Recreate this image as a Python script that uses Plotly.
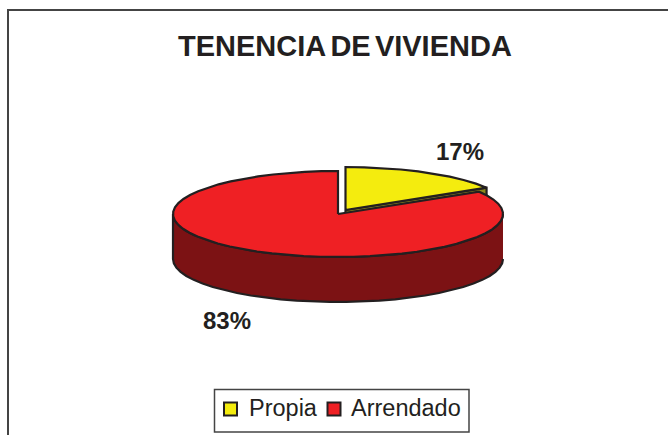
import numpy as np
import plotly.graph_objects as go

categories = ["Propia", "Arrendado"]
values = [17, 83]
labels = ["17%", "83%"]
title_words = ["TENENCIA", "DE", "VIVIENDA"]
top_colors = ["#f4ec0e", "#ef2024"]
wall_colors = ["#8c8a1c", "#7c1214"]
INK = "#231f20"

W, H = 668, 435
RX, RY, DEPTH = 165, 43, 45
CX, CY = 338, 214          # centre of the pie
EXPLODE = (7.5, -4)        # the first slice is pulled out
PERSPECTIVE = 0.96         # tilted view foreshortens the slice angle slightly
STEPS = 64


def rim(cx, cy, a0, a1):
    """Rim points from a0 to a1 (radians, clockwise from 12 o'clock)."""
    n = max(2, int(abs(a1 - a0) / (2 * np.pi) * STEPS))
    t = np.linspace(a0, a1, n)
    return cx + RX * np.sin(t), cy - RY * np.cos(t)


def poly(xs, ys, fill):
    return go.Scatter(x=list(xs), y=list(ys), mode="lines", fill="toself", fillcolor=fill,
                      line=dict(color=INK, width=2.2, shape="linear"), hoverinfo="skip",
                      showlegend=False)


share = values[0] / sum(values)
split = 2 * np.pi * share * PERSPECTIVE

fig = go.Figure()

# first slice: cut wall, then top
x0, y0 = CX + EXPLODE[0], CY + EXPLODE[1]
ex = x0 + RX * np.sin(split)
ey = y0 - RY * np.cos(split)
fig.add_trace(poly([x0, ex, ex, x0, x0], [y0, ey, ey + DEPTH, y0 + DEPTH, y0], wall_colors[0]))
sx, sy = rim(x0, y0, 0, split)
fig.add_trace(poly([x0, *sx, x0], [y0, *sy, y0], top_colors[0]))

# second slice: outer wall, then top
wx, wy = rim(CX, CY, np.pi / 2, 3 * np.pi / 2)
fig.add_trace(poly([*wx, *wx[::-1]], [*wy, *(wy[::-1] + DEPTH)], wall_colors[1]))
rx, ry = rim(CX, CY, split, 2 * np.pi)
fig.add_trace(poly([CX, *rx, CX], [CY, *ry, CY], top_colors[1]))

# legend keys
legend_key_x = [230.5, 334]
legend_text_x = [246.5, 348.5]
LEGEND_Y = 408
for name, colour, kx in zip(categories, top_colors, legend_key_x):
    fig.add_trace(go.Scatter(x=[kx], y=[LEGEND_Y + 1], mode="markers", name=name, showlegend=False,
                             hoverinfo="name",
                             marker=dict(symbol="square", size=13, color=colour,
                                         line=dict(color=INK, width=2))))

narrow_space = "<span style='font-size:15px'> </span>"
annotations = [
    dict(text="<b>" + narrow_space.join(title_words) + "</b>", x=344.5, y=45.5, xref="x", yref="y",
         showarrow=False, font=dict(size=29, color=INK)),
    dict(text=f"<b>{labels[0]}</b>", x=460, y=151, xref="x", yref="y",
         showarrow=False, font=dict(size=24, color=INK)),
    dict(text=f"<b>{labels[1]}</b>", x=227, y=320, xref="x", yref="y",
         showarrow=False, font=dict(size=24, color=INK)),
]
for name, tx in zip(categories, legend_text_x):
    annotations.append(dict(text=name, x=tx, y=LEGEND_Y, xref="x", yref="y", xanchor="left",
                            showarrow=False, font=dict(size=23.5, color=INK)))

fig.update_layout(
    width=W, height=H, autosize=False,
    margin=dict(l=0, r=0, t=0, b=0),
    paper_bgcolor="white", plot_bgcolor="white",
    font=dict(family="Liberation Sans, Arial, sans-serif", color=INK),
    xaxis=dict(range=[0, W], visible=False, fixedrange=True),
    yaxis=dict(range=[H, 0], visible=False, fixedrange=True),
    showlegend=False,
    shapes=[
        dict(type="path", path="M 8 435 L 8 10 L 668 10", xref="x", yref="y",
             line=dict(color="#444444", width=2)),
        dict(type="rect", x0=214.5, x1=469, y0=389.5, y1=432, xref="x", yref="y",
             line=dict(color="#444444", width=1.5)),
    ],
    annotations=annotations,
)

fig.write_html("out.html", config=dict(displayModeBar=False),
               post_script="document.body.style.margin='0';document.documentElement.style.overflow='hidden';")
